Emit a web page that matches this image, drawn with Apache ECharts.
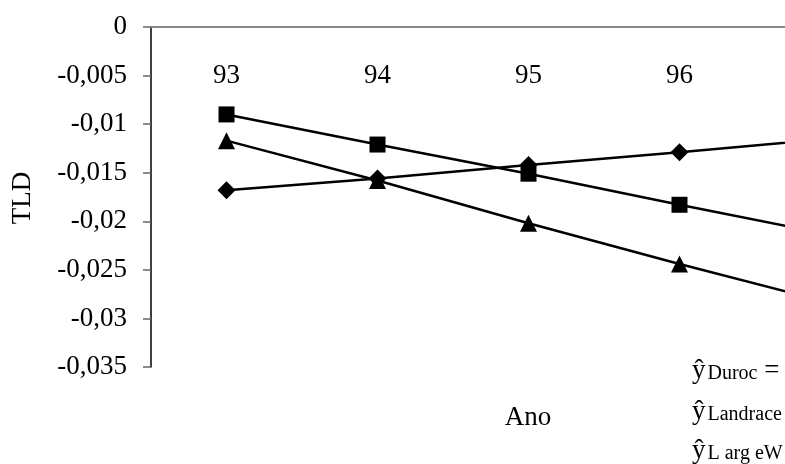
<!DOCTYPE html>
<html>
<head>
<meta charset="utf-8">
<script src="https://cdn.jsdelivr.net/npm/echarts@6/dist/echarts.min.js"></script>
<style>
html,body{margin:0;padding:0;background:#fff;}
#c{width:785px;height:464px;}
</style>
</head>
<body>
<div id="c"></div>
<script>
var categories = ['93', '94', '95', '96', '97'];
var duroc = [-0.0168, -0.0156, -0.0142, -0.0129, -0.0115];
var landrace = [-0.0090, -0.0121, -0.0151, -0.0183, -0.0214];
var largeWhite = [-0.0117, -0.0158, -0.0202, -0.0244, -0.0284];
var yTicks = { min: -0.035, max: 0, interval: 0.005 };

var FONT = '"Liberation Serif", "Times New Roman", serif';
var chart = echarts.init(document.getElementById('c'), null, { renderer: 'canvas' });

function lineSeries(name, data, symbol, size) {
  return {
    name: name, type: 'line', data: data, symbol: symbol, symbolSize: size,
    lineStyle: { color: '#000', width: 2.5 },
    itemStyle: { color: '#000' },
    clip: false, animation: false
  };
}

var rich = {
  y: { fontFamily: FONT, fontSize: 27, lineHeight: 27, color: '#000' },
  s: { fontFamily: FONT, fontSize: 20, lineHeight: 10, verticalAlign: 'bottom', color: '#000', padding: [0, 0, 0, 2] },
  e: { fontFamily: FONT, fontSize: 27, lineHeight: 27, color: '#000' }
};

chart.setOption({
  backgroundColor: '#fff',
  animation: false,
  grid: { left: 151, top: 27, width: 755, height: 340, containLabel: false, outerBoundsMode: 'none' },
  xAxis: {
    type: 'category', data: categories, position: 'top', boundaryGap: true,
    axisLine: { show: true, onZero: false, lineStyle: { color: '#868686', width: 2 } },
    axisTick: { show: false },
    axisLabel: { inside: true, margin: 35, fontFamily: FONT, fontSize: 27, color: '#000' },
    splitLine: { show: false }
  },
  yAxis: {
    type: 'value', min: yTicks.min, max: yTicks.max, interval: yTicks.interval,
    axisLine: { show: true, lineStyle: { color: '#000', width: 1.5 } },
    axisTick: { show: true, length: 8, lineStyle: { color: '#666', width: 1.5 } },
    axisLabel: {
      margin: 24, fontFamily: FONT, fontSize: 27, color: '#000',
      formatter: function (v) { return String(+v.toFixed(3)).replace('.', ','); }
    },
    splitLine: { show: false }
  },
  series: [
    lineSeries('Duroc', duroc, 'diamond', 18),
    lineSeries('Landrace', landrace, 'rect', 16),
    lineSeries('LargeWhite', largeWhite, 'triangle', 17)
  ],
  graphic: [
    { type: 'text', x: 23, y: 198, rotation: Math.PI / 2,
      style: { text: 'TLD', fontFamily: FONT, fontSize: 27, fill: '#000', align: 'center', verticalAlign: 'middle' } },
    { type: 'text', x: 528, y: 418,
      style: { text: 'Ano', fontFamily: FONT, fontSize: 27, fill: '#000', align: 'center', verticalAlign: 'middle' } },
    { type: 'text', x: 692, y: 357,
      style: { text: '{y|ŷ}{s|Duroc}{e| =}', rich: rich, align: 'left', verticalAlign: 'top' } },
    { type: 'text', x: 692, y: 398,
      style: { text: '{y|ŷ}{s|Landrace}', rich: rich, align: 'left', verticalAlign: 'top' } },
    { type: 'text', x: 692, y: 437,
      style: { text: '{y|ŷ}{s|L arg eW}', rich: rich, align: 'left', verticalAlign: 'top' } }
  ]
});
</script>
</body>
</html>
